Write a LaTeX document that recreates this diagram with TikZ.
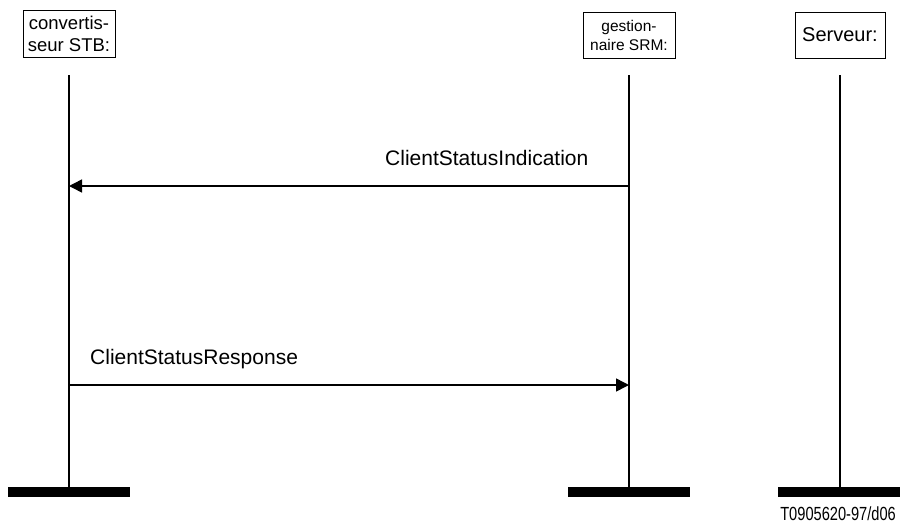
\documentclass[tikz,border=0pt]{standalone}
\usepackage{fontspec}
\setmainfont{Liberation Sans}
\newfontfamily\narrowfont[FakeStretch=0.77]{Liberation Sans}
\usetikzlibrary{arrows.meta}
\tikzset{
  objbox/.style={draw=black, line width=1pt, inner sep=0pt, align=center},
  lifeline/.style={line width=2pt},
  endbar/.style={fill=black, draw=none, minimum width=122pt, minimum height=10pt, inner sep=0pt},
  msg/.style={line width=1.5pt, -{Triangle[length=13pt,width=13pt]}},
  msglabel/.style={anchor=base west, inner sep=0pt, font=\fontsize{21}{24}\selectfont}
}
\begin{document}
\begin{tikzpicture}[x=1pt,y=-1pt]
\useasboundingbox (0,0) rectangle (903,523);
% object boxes
\node[objbox, minimum width=92pt, minimum height=47pt, font=\fontsize{18.5}{22}\selectfont] (stb) at (69,33.5) {convertis-\\seur STB:};
\node[objbox, minimum width=92pt, minimum height=46pt, font=\fontsize{15.5}{19}\selectfont] (srm) at (629,35) {gestion-\\naire SRM:};
\node[objbox, minimum width=90pt, minimum height=46pt, font=\fontsize{20}{24}\selectfont] (srv) at (840,35) {Serveur:};
% lifeline tops
\coordinate (t1) at (69,75);
\coordinate (t2) at (629,75);
\coordinate (t3) at (840,75);
% end bars
\node[endbar] (b1) at (69,492) {};
\node[endbar] (b2) at (628.5,492) {};
\node[endbar] (b3) at (839,492) {};
\draw[lifeline] (t1) -- (b1.north -| t1);
\draw[lifeline] (t2) -- (b2.north -| t2);
\draw[lifeline] (t3) -- (b3.north -| t3);
% messages
\coordinate (m1s) at (629,186);
\coordinate (m1e) at (69,186);
\coordinate (m2s) at (69,385);
\coordinate (m2e) at (629,385);
\draw[msg] (m1s) -- (m1e);
\draw[msg] (m2s) -- (m2e);
\node[msglabel] (l1) at (385,165) {ClientStatusIndication};
\node[msglabel] (l2) at (90,364) {ClientStatusResponse};
% figure id
\node[anchor=base east, inner sep=0pt, font=\narrowfont\fontsize{19}{22}\selectfont] (fid) at (896,520) {T0905620-97/d06};
\end{tikzpicture}
\end{document}
